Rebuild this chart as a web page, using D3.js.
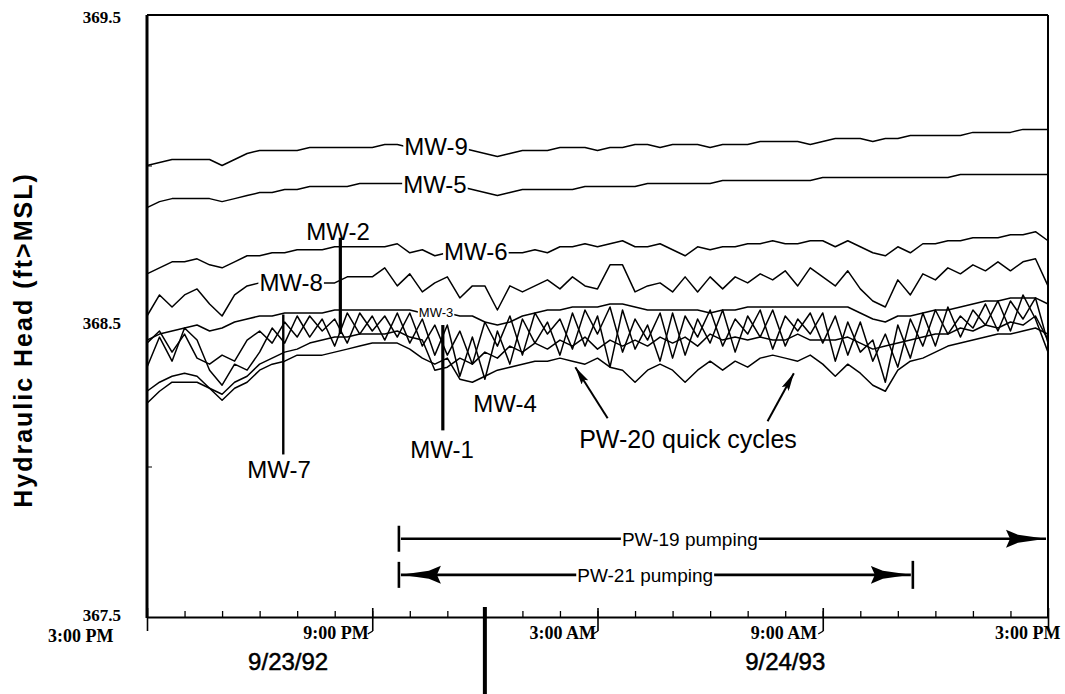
<!DOCTYPE html>
<html>
<head>
<meta charset="utf-8">
<title>Hydraulic head, MW wells</title>
<script src="https://cdn.jsdelivr.net/npm/d3@7/dist/d3.min.js"></script>
<style>
  body { margin: 0; background: #fff; }
  svg { display: block; }
</style>
</head>
<body>
<svg id="chart" width="1065" height="694"></svg>
<script>
// Reading times: hours after 3:00 PM, one reading every 20 minutes
const hours = d3.range(0, 73).map(i => i / 3);

// Hydraulic head (ft above MSL) per monitoring well
const mw9 = [
  369.00,369.01,369.02,369.02,369.02,369.02,369.00,369.02,369.04,369.05,369.05,369.05,
  369.05,369.06,369.06,369.06,369.06,369.06,369.06,369.07,369.07,369.06,369.06,369.06,
  369.06,369.06,369.05,369.04,369.03,369.04,369.05,369.05,369.05,369.06,369.06,369.06,
  369.05,369.06,369.06,369.07,369.07,369.06,369.07,369.07,369.07,369.06,369.07,369.07,
  369.07,369.08,369.08,369.08,369.08,369.07,369.08,369.09,369.09,369.09,369.08,369.09,
  369.09,369.10,369.10,369.10,369.10,369.10,369.11,369.11,369.11,369.11,369.12,369.12,
  369.12];
const mw5 = [
  368.86,368.88,368.89,368.89,368.89,368.89,368.88,368.89,368.90,368.91,368.91,368.92,
  368.92,368.93,368.93,368.93,368.93,368.94,368.94,368.94,368.94,368.94,368.94,368.93,
  368.93,368.93,368.92,368.91,368.90,368.91,368.92,368.92,368.92,368.92,368.92,368.93,
  368.93,368.93,368.93,368.93,368.94,368.94,368.94,368.94,368.94,368.94,368.95,368.95,
  368.95,368.95,368.95,368.95,368.95,368.95,368.96,368.96,368.96,368.96,368.96,368.96,
  368.96,368.96,368.96,368.96,368.96,368.97,368.97,368.97,368.97,368.97,368.97,368.97,
  368.97];
const mw6 = [
  368.64,368.66,368.68,368.68,368.69,368.67,368.66,368.68,368.70,368.70,368.71,368.71,
  368.72,368.72,368.72,368.73,368.73,368.73,368.73,368.73,368.74,368.71,368.72,368.70,
  368.71,368.71,368.71,368.71,368.71,368.71,368.71,368.72,368.71,368.73,368.73,368.74,
  368.73,368.74,368.75,368.73,368.73,368.74,368.72,368.70,368.73,368.72,368.73,368.73,
  368.74,368.74,368.75,368.74,368.74,368.75,368.75,368.73,368.75,368.73,368.71,368.70,
  368.73,368.71,368.74,368.74,368.75,368.75,368.76,368.76,368.76,368.77,368.77,368.78,
  368.75];
const mw8 = [
  368.50,368.57,368.53,368.57,368.59,368.54,368.50,368.57,368.60,368.61,368.61,368.61,
  368.61,368.61,368.61,368.61,368.63,368.63,368.63,368.66,368.60,368.64,368.58,368.61,
  368.63,368.56,368.60,368.60,368.52,368.60,368.58,368.60,368.62,368.59,368.63,368.60,
  368.59,368.67,368.67,368.58,368.60,368.61,368.58,368.63,368.58,368.63,368.59,368.63,
  368.61,368.64,368.62,368.65,368.60,368.66,368.63,368.60,368.65,368.59,368.55,368.53,
  368.62,368.57,368.64,368.62,368.66,368.64,368.67,368.65,368.68,368.65,368.68,368.69,
  368.60];
const mw3 = [
  368.42,368.44,368.45,368.46,368.47,368.45,368.46,368.48,368.49,368.50,368.50,368.51,
  368.51,368.51,368.51,368.52,368.52,368.52,368.52,368.52,368.52,368.52,368.51,368.51,
  368.51,368.50,368.50,368.48,368.47,368.48,368.50,368.51,368.52,368.52,368.53,368.53,
  368.53,368.54,368.54,368.53,368.52,368.52,368.52,368.52,368.52,368.51,368.52,368.52,
  368.53,368.53,368.53,368.53,368.53,368.53,368.53,368.53,368.53,368.51,368.49,368.48,
  368.50,368.50,368.51,368.52,368.52,368.53,368.54,368.55,368.55,368.56,368.56,368.56,
  368.54];
const mw2 = [
  368.41,368.45,368.38,368.44,368.36,368.34,368.37,368.35,368.42,368.45,368.41,368.48,
  368.43,368.50,368.45,368.49,368.41,368.51,368.45,368.50,368.43,368.51,368.40,368.47,
  368.37,368.45,368.34,368.48,368.40,368.50,368.37,368.51,368.44,368.49,368.39,368.52,
  368.44,368.53,368.38,368.49,368.42,368.51,368.36,368.50,368.43,368.52,368.40,368.49,
  368.44,368.52,368.39,368.50,368.45,368.51,368.41,368.50,368.37,368.48,368.35,368.44,
  368.33,368.49,368.40,368.52,368.44,368.50,368.46,368.54,368.45,368.55,368.49,368.56,
  368.41];
const mw1 = [
  368.33,368.43,368.35,368.46,368.42,368.32,368.27,368.34,368.32,368.38,368.46,368.41,
  368.50,368.43,368.49,368.40,368.51,368.44,368.50,368.42,368.51,368.41,368.49,368.37,
  368.47,368.30,368.43,368.29,368.45,368.34,368.49,368.41,368.48,368.37,368.51,368.40,
  368.50,368.33,368.52,368.39,368.47,368.35,368.51,368.37,368.49,368.41,368.52,368.38,
  368.50,368.43,368.52,368.40,368.49,368.44,368.51,368.35,368.48,368.38,368.42,368.28,
  368.47,368.36,368.51,368.40,368.53,368.43,368.52,368.47,368.55,368.45,368.57,368.49,
  368.38];
const mw7 = [
  368.25,368.28,368.30,368.31,368.30,368.26,368.24,368.28,368.30,368.34,368.36,368.38,
  368.39,368.41,368.42,368.43,368.43,368.44,368.44,368.44,368.45,368.43,368.42,368.32,
  368.33,368.36,368.34,368.38,368.36,368.40,368.38,368.41,368.39,368.42,368.40,368.43,
  368.39,368.42,368.40,368.42,368.40,368.43,368.41,368.43,368.40,368.44,368.42,368.43,
  368.42,368.43,368.42,368.42,368.44,368.42,368.42,368.42,368.43,368.41,368.39,368.40,
  368.41,368.42,368.43,368.44,368.44,368.46,368.45,368.47,368.46,368.48,368.47,368.50,
  368.42];
const mw4 = [
  368.21,368.25,368.28,368.28,368.28,368.26,368.22,368.26,368.28,368.32,368.34,368.35,
  368.37,368.37,368.37,368.38,368.39,368.40,368.41,368.41,368.41,368.39,368.36,368.34,
  368.36,368.29,368.28,368.30,368.32,368.33,368.34,368.35,368.35,368.36,368.35,368.34,
  368.36,368.33,368.32,368.28,368.32,368.34,368.32,368.28,368.32,368.35,368.32,368.35,
  368.33,368.36,368.37,368.36,368.35,368.37,368.34,368.30,368.34,368.31,368.27,368.25,
  368.32,368.35,368.36,368.38,368.40,368.41,368.42,368.43,368.44,368.44,368.45,368.46,
  368.44];

const wells = [mw9, mw5, mw6, mw8, mw3, mw2, mw1, mw7, mw4];

// Axis ticks
const hourTicks = [0, 6, 12, 18, 24];
const hourTickLabels = ["3:00 PM", "9:00 PM", "3:00 AM", "9:00 AM", "3:00 PM"];
const headTicks = [367.5, 368.5, 369.5];
const dates = ["9/23/92", "9/24/93"];
const dateHours = [3.76, 17.0];

// Well names, placed at [hour, head]
const wellNames = ["MW-9", "MW-5", "MW-6", "MW-8", "MW-3", "MW-2", "MW-7", "MW-1", "MW-4"];
const wellNameAt = [[7.70, 369.065], [7.67, 368.936], [8.76, 368.714], [3.84, 368.611],
                    [7.70, 368.512], [5.09, 368.78], [3.52, 367.99], [7.86, 368.057], [9.54, 368.21]];

// Leader lines from a name to its well: [hour, head from, head to]
const leaders = [[5.15, 368.76, 368.44], [3.63, 368.505, 368.04], [7.88, 368.47, 368.12]];

// Pumping periods, hours after 3:00 PM
const pw19Period = [6.71, 24];
const pw21Period = [6.71, 20.4];
const pw19Head = 367.76, pw21Head = 367.64;
const pw19TextHour = 14.46, pw21TextHour = 13.27;

// PW-20 quick-cycle arrows: [from hour, from head, to hour, to head]
const cycleArrows = [[12.27, 368.16, 11.41, 368.33], [16.53, 368.15, 17.23, 368.31]];

const svg = d3.select("#chart");
const x = d3.scaleLinear().domain([0, 24]).range([147, 1048]);
const y = d3.scaleLinear().domain([367.5, 369.5]).range([617, 15]);
const [xL, xR] = x.range();
const [yB, yT] = y.range();
const sans = "'Liberation Sans', Arial, sans-serif";
const serif = "'Liberation Serif', 'DejaVu Serif', serif";

svg.append("rect").attr("width", 1065).attr("height", 694).attr("fill", "#fff");

const defs = svg.append("defs");
defs.append("marker").attr("id", "bigHead")
  .attr("viewBox", "0 0 40 20").attr("refX", 40).attr("refY", 10)
  .attr("markerUnits", "userSpaceOnUse").attr("markerWidth", 40).attr("markerHeight", 20)
  .attr("orient", "auto-start-reverse")
  .append("path").attr("d", "M0,1 L12,6 L40,10 L12,14 L0,19 L4,10 Z").attr("fill", "#000");
defs.append("marker").attr("id", "thinHead")
  .attr("viewBox", "0 0 18 8").attr("refX", 18).attr("refY", 4)
  .attr("markerUnits", "userSpaceOnUse").attr("markerWidth", 18).attr("markerHeight", 8)
  .attr("orient", "auto")
  .append("path").attr("d", "M0,0 L18,4 L0,8 L3,4 Z").attr("fill", "#000");

// Well hydrographs
const line = d3.line().x((d, i) => x(hours[i])).y(d => y(d)).curve(d3.curveLinear);
svg.append("g").selectAll("path").data(wells).join("path")
  .attr("d", line).attr("fill", "none").attr("stroke", "#000")
  .attr("stroke-width", 1.5).attr("stroke-linejoin", "round");

// Frame
svg.append("line").attr("x1", xL).attr("x2", xR).attr("y1", yT).attr("y2", yT)
  .attr("stroke", "#000").attr("stroke-width", 2);
svg.append("line").attr("x1", xR).attr("x2", xR).attr("y1", yT).attr("y2", yB)
  .attr("stroke", "#000").attr("stroke-width", 2);
svg.append("line").attr("x1", xL).attr("x2", xL).attr("y1", yT).attr("y2", yB + 1)
  .attr("stroke", "#000").attr("stroke-width", 3);

// Bottom axis: hourly inner ticks, labelled 6-hour ticks
svg.append("g").attr("transform", `translate(0,${yB})`)
  .call(d3.axisBottom(x).tickValues(d3.range(1, 24)).tickSizeInner(-6).tickSizeOuter(0).tickFormat(""))
  .call(g => g.select(".domain").remove())
  .call(g => g.selectAll(".tick line").attr("stroke-width", 1.3));

const gx = svg.append("g").attr("transform", `translate(0,${yB})`)
  .call(d3.axisBottom(x).tickValues(hourTicks).tickSizeInner(14).tickSizeOuter(0)
    .tickFormat((d, i) => hourTickLabels[i]));
gx.attr("font-family", serif).attr("font-size", 18).attr("font-weight", "bold");
gx.select(".domain").attr("stroke-width", 2);
gx.selectAll(".tick line").attr("y1", -9).attr("stroke-width", 1.6);
gx.selectAll(".tick").filter(d => d > 0 && d < 24).append("line")
  .attr("x1", 0).attr("x2", -5).attr("y1", 14).attr("y2", 17).attr("stroke", "#000").attr("stroke-width", 1.4);
gx.selectAll(".tick text")
  .attr("text-anchor", "end")
  .attr("y", (d, i) => i === 0 ? 12 : 9).attr("dy", "0.71em")
  .attr("dx", (d, i) => [-34, -4, -2, -6, 12][i]);

// Midnight divider below the axis
svg.append("line").attr("x1", x(9)).attr("x2", x(9)).attr("y1", yB - 10).attr("y2", 694)
  .attr("stroke", "#000").attr("stroke-width", 4);

// Date captions
svg.append("g").selectAll("text").data(dates).join("text")
  .attr("x", (d, i) => x(dateHours[i])).attr("y", 670)
  .attr("text-anchor", "middle")
  .attr("font-family", sans).attr("font-size", 24)
  .attr("stroke", "#000").attr("stroke-width", 0.5)
  .text(d => d);

// Left axis labels and inner ticks
const gy = svg.append("g").attr("transform", `translate(${xL},0)`)
  .call(d3.axisLeft(y).tickValues(headTicks).tickSize(0).tickPadding(26).tickFormat(d3.format(".1f")));
gy.attr("font-family", serif).attr("font-size", 17).attr("font-weight", "bold");
gy.select(".domain").remove();
gy.selectAll(".tick text")
  .attr("dy", (d, i) => [0.2, 0.75, 0.45][i] + "em");
svg.append("g").attr("transform", `translate(${xL},0)`)
  .call(d3.axisLeft(y).tickValues([368, 369]).tickSizeInner(-5).tickSizeOuter(0).tickFormat(""))
  .call(g => g.select(".domain").remove());

// Axis title
svg.append("text")
  .attr("transform", `translate(32,340) rotate(-90)`)
  .attr("text-anchor", "middle")
  .attr("font-family", sans)
  .attr("font-weight", "bold").attr("font-size", 25).attr("letter-spacing", 2)
  .text("Hydraulic Head (ft>MSL)");

// Text with a white backing so the line it sits on is hidden behind it
function maskedText(g, str, cx, cy, size) {
  const t = g.append("text").attr("x", cx).attr("y", cy)
    .attr("text-anchor", "middle").attr("dy", "0.36em")
    .attr("font-family", sans)
    .attr("font-size", size).text(str);
  const b = t.node().getBBox();
  g.insert("rect", () => t.node())
    .attr("x", b.x - 1).attr("y", b.y + 2).attr("width", b.width + 2).attr("height", b.height - 4)
    .attr("fill", "#fff");
  return t;
}

const labels = svg.append("g");
wellNames.forEach((name, i) => {
  const [h, v] = wellNameAt[i];
  maskedText(labels, name, x(h), y(v), name === "MW-3" ? 13 : 24);
});

// Leader lines
svg.append("g").selectAll("line").data(leaders).join("line")
  .attr("x1", d => x(d[0])).attr("x2", d => x(d[0]))
  .attr("y1", d => y(d[1])).attr("y2", d => y(d[2]))
  .attr("stroke", "#000").attr("stroke-width", (d, i) => i === 1 ? 2.4 : 3.2);

// PW-20 quick cycles
const cyc = svg.append("g");
cyc.selectAll("line").data(cycleArrows).join("line")
  .attr("x1", d => x(d[0])).attr("y1", d => y(d[1]))
  .attr("x2", d => x(d[2])).attr("y2", d => y(d[3]))
  .attr("stroke", "#000").attr("stroke-width", 2).attr("marker-end", "url(#thinHead)");
cyc.append("text").attr("x", x(14.41)).attr("y", y(368.09)).attr("dy", "0.36em")
  .attr("text-anchor", "middle")
  .attr("font-family", sans).attr("font-size", 25)
  .text("PW-20 quick cycles");

// Pumping periods
function period(span, head, name, textHour, bothHeads, endBar) {
  const g = svg.append("g");
  const yy = y(head);
  g.append("line").attr("x1", x(span[0]) + 2).attr("x2", x(span[1]) - 2)
    .attr("y1", yy).attr("y2", yy).attr("stroke", "#000").attr("stroke-width", 2.6)
    .attr("marker-end", "url(#bigHead)")
    .attr("marker-start", bothHeads ? "url(#bigHead)" : null);
  g.append("line").attr("x1", x(span[0])).attr("x2", x(span[0]))
    .attr("y1", yy - 13).attr("y2", yy + 13).attr("stroke", "#000").attr("stroke-width", 2.6);
  if (endBar) {
    g.append("line").attr("x1", x(span[1])).attr("x2", x(span[1]))
      .attr("y1", yy - 14).attr("y2", yy + 14).attr("stroke", "#000").attr("stroke-width", 2.6);
  }
  maskedText(g, name, x(textHour), yy, 19);
}
period(pw19Period, pw19Head, "PW-19 pumping", pw19TextHour, false, false);
period(pw21Period, pw21Head, "PW-21 pumping", pw21TextHour, true, true);
</script>
</body>
</html>
